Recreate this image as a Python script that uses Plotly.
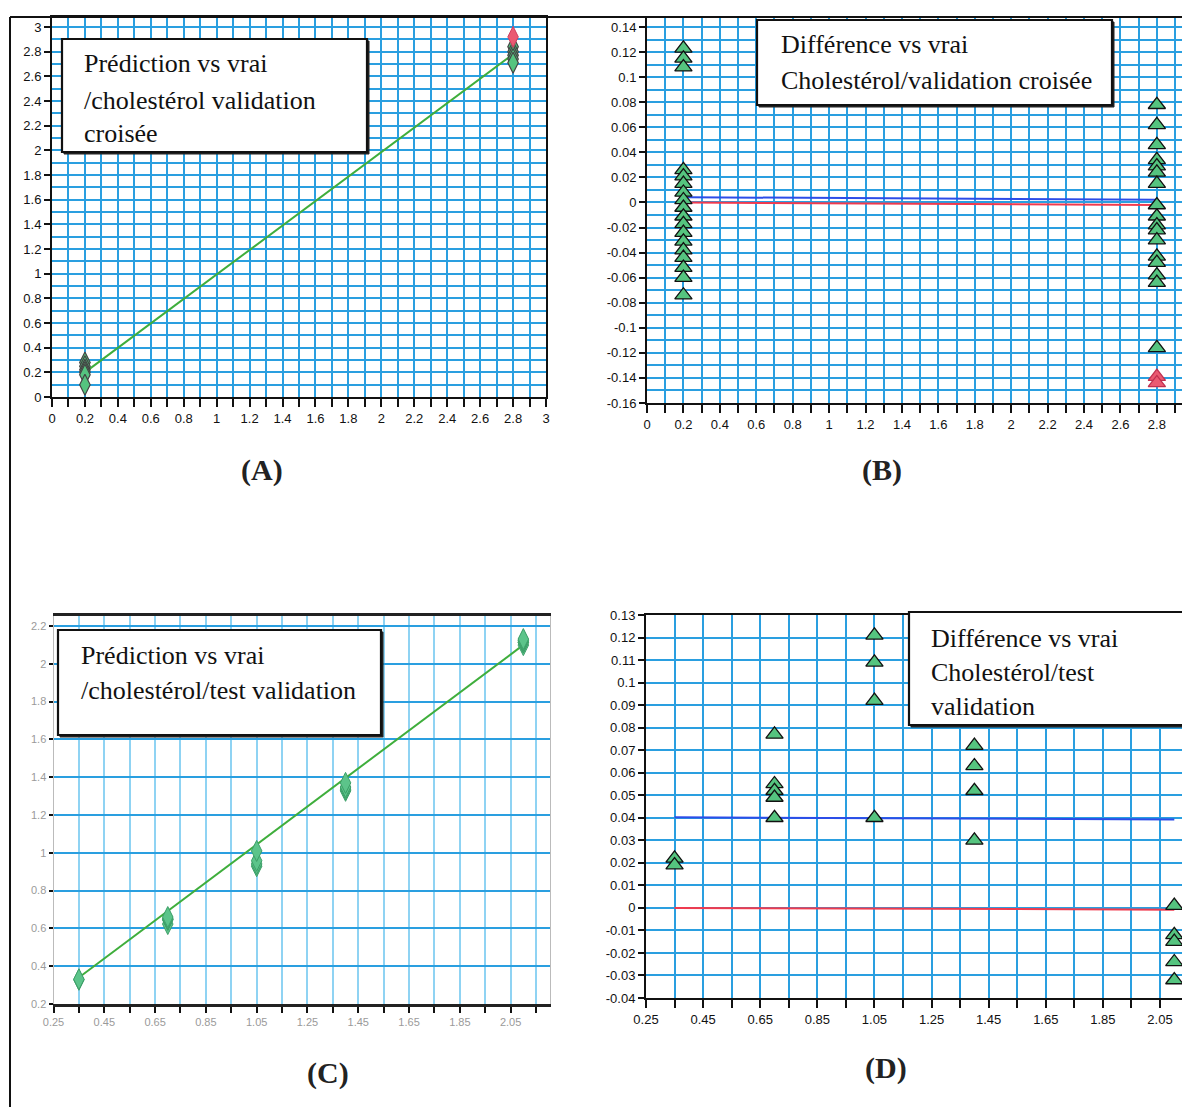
import plotly.graph_objects as go

# the page body adds an 8px margin; the figure is sized to fill the rest of the window
OFF = 8
W, H = 1190 - OFF, 1107 - OFF

# ---------------- data ----------------
# Panel A : prediction vs true (cross validation)
a_low_x = [0.2, 0.2, 0.2, 0.2, 0.2, 0.2]
a_low_y = [0.28, 0.25, 0.22, 0.20, 0.18, 0.10]
a_high_x = [2.8, 2.8, 2.8, 2.8, 2.8]
a_high_y = [2.84, 2.80, 2.77, 2.74, 2.71]
a_red_x = [2.8]
a_red_y = [2.92]
a_fit_x = [0.22, 2.79]
a_fit_y = [0.22, 2.77]

# Panel B : difference vs true (cross validation)
b_low_x = [0.2] * 18
b_low_y = [0.123, 0.115, 0.108, 0.026, 0.021, 0.015, 0.008, 0.002, -0.004,
           -0.011, -0.017, -0.024, -0.031, -0.038, -0.044, -0.052, -0.060, -0.074]
b_high_x = [2.8] * 17
b_high_y = [0.078, 0.062, 0.046, 0.034, 0.029, 0.024, 0.015, -0.002, -0.011,
            -0.018, -0.022, -0.030, -0.043, -0.048, -0.058, -0.064, -0.116]
b_red_x = [2.8, 2.8]
b_red_y = [-0.139, -0.144]
b_blue_x = [0.22, 2.8]
b_blue_y = [0.0042, 0.0022]
b_zero_x = [0.22, 2.8]
b_zero_y = [0.0, -0.0020]

# Panel C : prediction vs true (test validation)
c_x = [0.35, 0.35, 0.7, 0.7, 0.7, 0.7, 0.7, 1.05, 1.05, 1.05, 1.05,
       1.4, 1.4, 1.4, 1.4, 2.1, 2.1, 2.1, 2.1, 2.1]
c_y = [0.328, 0.331, 0.623, 0.645, 0.648, 0.651, 0.660, 0.929, 0.941, 0.958, 1.010,
       1.328, 1.337, 1.348, 1.370, 2.099, 2.113, 2.115, 2.124, 2.131]
c_fit_x = [0.35, 2.1]
c_fit_y = [0.34, 2.10]

# Panel D : difference vs true (test validation)
d_x = [0.35, 0.35, 0.7, 0.7, 0.7, 0.7, 0.7, 1.05, 1.05, 1.05, 1.05,
       1.4, 1.4, 1.4, 1.4, 2.1, 2.1, 2.1, 2.1, 2.1]
d_y = [0.022, 0.019, 0.077, 0.055, 0.052, 0.049, 0.040, 0.121, 0.109, 0.092, 0.040,
       0.072, 0.063, 0.052, 0.030, 0.001, -0.012, -0.015, -0.024, -0.032]
d_blue_x = [0.35, 2.1]
d_blue_y = [0.0402, 0.0392]
d_zero_x = [0.35, 2.1]
d_zero_y = [0.0, -0.0008]

# tick labels
a_ticks = [round(0.2 * i, 1) for i in range(16)]
a_ticktext = ["0", "0.2", "0.4", "0.6", "0.8", "1", "1.2", "1.4", "1.6", "1.8",
              "2", "2.2", "2.4", "2.6", "2.8", "3"]
b_xticks = a_ticks[:15]
b_xticktext = a_ticktext[:15]
b_yticks = [0.14, 0.12, 0.1, 0.08, 0.06, 0.04, 0.02, 0, -0.02, -0.04, -0.06,
            -0.08, -0.1, -0.12, -0.14, -0.16]
b_yticktext = ["0.14", "0.12", "0.1", "0.08", "0.06", "0.04", "0.02", "0", "-0.02",
               "-0.04", "-0.06", "-0.08", "-0.1", "-0.12", "-0.14", "-0.16"]
c_xticks = [0.25, 0.45, 0.65, 0.85, 1.05, 1.25, 1.45, 1.65, 1.85, 2.05]
c_xticktext = ["0.25", "0.45", "0.65", "0.85", "1.05", "1.25", "1.45", "1.65", "1.85", "2.05"]
c_yticks = [0.2, 0.4, 0.6, 0.8, 1.0, 1.2, 1.4, 1.6, 1.8, 2.0, 2.2]
c_yticktext = ["0.2", "0.4", "0.6", "0.8", "1", "1.2", "1.4", "1.6", "1.8", "2", "2.2"]
d_yticks = [0.13, 0.12, 0.11, 0.1, 0.09, 0.08, 0.07, 0.06, 0.05, 0.04, 0.03, 0.02,
            0.01, 0, -0.01, -0.02, -0.03, -0.04]
d_yticktext = ["0.13", "0.12", "0.11", "0.1", "0.09", "0.08", "0.07", "0.06", "0.05",
               "0.04", "0.03", "0.02", "0.01", "0", "-0.01", "-0.02", "-0.03", "-0.04"]

# ---------------- style ----------------
GRID = "#2a9fe0"
GRID_LIGHT = "#8fd3f3"
GREEN = "#55c47f"
RED = "#ea5a72"
FIT = "#3fae3c"
TICKFONT = dict(family="Liberation Sans Narrow, Arial Narrow, sans-serif", size=13, color="#111")
SERIF = "Liberation Serif, Times New Roman, serif"


def px(x):
    return (x - OFF) / W


def py(y):
    return 1 - (y - OFF) / H


fig = go.Figure()

# Panel A
fig.add_trace(go.Scatter(x=a_fit_x, y=a_fit_y, mode="lines", line=dict(color=FIT, width=2),
                         xaxis="x", yaxis="y"))
fig.add_trace(go.Scatter(x=a_low_x, y=a_low_y, mode="markers",
                         marker=dict(symbol="diamond-tall", size=15, color=GREEN,
                                     line=dict(color="#444", width=1.2)), xaxis="x", yaxis="y"))
fig.add_trace(go.Scatter(x=a_high_x, y=a_high_y, mode="markers",
                         marker=dict(symbol="diamond-tall", size=15, color=GREEN,
                                     line=dict(color="#444", width=1.2)), xaxis="x", yaxis="y"))
fig.add_trace(go.Scatter(x=a_red_x, y=a_red_y, mode="markers",
                         marker=dict(symbol="diamond-tall", size=15, color=RED,
                                     line=dict(color="#d04060", width=1)), xaxis="x", yaxis="y"))

# Panel B
tri = dict(symbol="triangle-up", size=15, color=GREEN, line=dict(color="#111", width=1.3))
fig.add_trace(go.Scatter(x=b_blue_x, y=b_blue_y, mode="lines", line=dict(color="#2c4de8", width=2),
                         xaxis="x2", yaxis="y2"))
fig.add_trace(go.Scatter(x=b_zero_x, y=b_zero_y, mode="lines", line=dict(color="#f03a4e", width=2),
                         xaxis="x2", yaxis="y2"))
fig.add_trace(go.Scatter(x=b_low_x, y=b_low_y, mode="markers", marker=tri, xaxis="x2", yaxis="y2"))
fig.add_trace(go.Scatter(x=b_high_x, y=b_high_y, mode="markers", marker=tri, xaxis="x2", yaxis="y2"))
fig.add_trace(go.Scatter(x=b_red_x, y=b_red_y, mode="markers",
                         marker=dict(symbol="triangle-up", size=15, color=RED,
                                     line=dict(color="#c03050", width=1.3)),
                         xaxis="x2", yaxis="y2"))

# Panel C
fig.add_trace(go.Scatter(x=c_fit_x, y=c_fit_y, mode="lines", line=dict(color=FIT, width=2),
                         xaxis="x3", yaxis="y3"))
fig.add_trace(go.Scatter(x=c_x, y=c_y, mode="markers",
                         marker=dict(symbol="diamond-tall", size=15, color="#5cc48a",
                                     line=dict(color="#3d9f68", width=1)),
                         xaxis="x3", yaxis="y3"))

# Panel D
fig.add_trace(go.Scatter(x=d_blue_x, y=d_blue_y, mode="lines", line=dict(color="#2c4de8", width=2),
                         xaxis="x4", yaxis="y4"))
fig.add_trace(go.Scatter(x=d_zero_x, y=d_zero_y, mode="lines", line=dict(color="#f03a4e", width=2),
                         xaxis="x4", yaxis="y4"))
fig.add_trace(go.Scatter(x=d_x, y=d_y, mode="markers", marker=tri, xaxis="x4", yaxis="y4"))


def axis(domain, rng, tickvals, ticktext, minor_dtick, minor_tick0, anchor,
         minor_ticks="", linecolor="#111", linewidth=2, mirror=False, font=TICKFONT,
         gridcolor=GRID, minor_grid=True, minor_gridcolor=GRID, ticklen=6, minor_ticklen=8,
         ticks="outside"):
    return dict(domain=domain, range=rng, tickmode="array", tickvals=tickvals, ticktext=ticktext,
                showgrid=True, gridcolor=gridcolor, gridwidth=1.6, zeroline=False,
                showline=True, linecolor=linecolor, linewidth=linewidth, mirror=mirror,
                ticks=ticks, ticklen=ticklen, tickwidth=1.5, tickcolor="#111",
                tickfont=font, anchor=anchor, automargin=False,
                minor=dict(dtick=minor_dtick, tick0=minor_tick0, showgrid=minor_grid,
                           gridcolor=minor_gridcolor, gridwidth=1.6, ticks=minor_ticks,
                           ticklen=minor_ticklen, tickwidth=1.5, tickcolor="#111"))


layout = dict(width=W, height=H, margin=dict(l=0, r=0, t=0, b=0, autoexpand=False),
              paper_bgcolor="white", plot_bgcolor="white", showlegend=False)

# A
layout["xaxis"] = axis([px(52), px(546)], [0, 3], a_ticks, a_ticktext, 0.1, 0, "y",
                       minor_ticks="outside", ticklen=8, mirror=True)
layout["yaxis"] = axis([py(397), py(17)], [0, 3.081], a_ticks, a_ticktext, 0.1, 0, "x",
                       mirror=True)
# B
layout["xaxis2"] = axis([px(647), px(1190)], [0, 2.982], b_xticks, b_xticktext, 0.1, 0, "y2",
                        minor_ticks="outside", ticklen=8, mirror=True)
layout["yaxis2"] = axis([py(403), py(18)], [-0.16, 0.1472], b_yticks, b_yticktext, 0.01, 0, "x2")
# C
cfont = dict(family="Liberation Sans Narrow, Arial Narrow, sans-serif", size=11, color="#9a9a9a")
layout["xaxis3"] = axis([px(53.5), px(550)], [0.25, 2.205], c_xticks, c_xticktext, 0.1, 0.25, "y3",
                        minor_ticks="outside", linecolor="#222", linewidth=2.5, mirror=True,
                        font=cfont, gridcolor=GRID_LIGHT, minor_gridcolor=GRID_LIGHT,
                        ticklen=6, minor_ticklen=6)
layout["yaxis3"] = axis([py(1004), py(616)], [0.2, 2.253], c_yticks, c_yticktext, 0.2, 0.2, "x3",
                        linecolor="#bbbbbb", linewidth=1, mirror=True, font=cfont,
                        minor_grid=False, ticklen=4)
# D
layout["xaxis4"] = axis([px(646), px(1190)], [0.25, 2.155], c_xticks, c_xticktext, 0.1, 0.25, "y4",
                        minor_ticks="outside", ticklen=8)
layout["yaxis4"] = axis([py(998), py(615)], [-0.04, 0.13], d_yticks, d_yticktext, 0.01, 0, "x4")
layout["xaxis4"]["mirror"] = True

fig.update_layout(**layout)

shapes = []
# page frame lines
shapes.append(dict(type="line", xref="paper", yref="paper", x0=px(10), x1=px(1190),
                   y0=py(17), y1=py(17), line=dict(color="#111", width=2)))
shapes.append(dict(type="line", xref="paper", yref="paper", x0=px(10), x1=px(10),
                   y0=py(17), y1=py(1107), line=dict(color="#111", width=2)))
shapes.append(dict(type="line", xref="paper", yref="paper", x0=px(1188), x1=px(1188),
                   y0=py(470), y1=py(612), line=dict(color="#111", width=2)))
shapes.append(dict(type="line", xref="paper", yref="paper", x0=px(1188), x1=px(1188),
                   y0=py(1040), y1=py(1100), line=dict(color="#111", width=2)))

# text boxes (x0, y0, x1, y1 in pixels) with a slight shadow on the bottom/right edge
boxes = [(62, 39, 367, 152), (757, 20, 1112, 105), (58, 630, 381, 735), (909, 612, 1185, 725)]
for (x0, y0, x1, y1) in boxes:
    shapes.append(dict(type="rect", xref="paper", yref="paper", x0=px(x0 + 2), x1=px(x1 + 2),
                       y0=py(y1 + 2), y1=py(y0 + 2), fillcolor="#222",
                       line=dict(color="#222", width=1), layer="above"))
    shapes.append(dict(type="rect", xref="paper", yref="paper", x0=px(x0), x1=px(x1),
                       y0=py(y1), y1=py(y0), fillcolor="white",
                       line=dict(color="#111", width=2.2), layer="above"))
fig.update_layout(shapes=shapes)

box_texts = [
    (82, [(64, "Prédiction vs vrai"), (100, "/cholestérol validation"), (133, "croisée")]),
    (779, [(44, "Différence vs vrai"), (80, "Cholestérol/validation croisée")]),
    (79, [(655, "Prédiction vs vrai"), (690, "/cholestérol/test validation")]),
    (929, [(638, "Différence vs vrai"), (672, "Cholestérol/test"), (706, "validation")]),
]
annotations = []
for x0, lines in box_texts:
    for y, t in lines:
        annotations.append(dict(text=t, xref="paper", yref="paper", x=px(x0), y=py(y),
                                xanchor="left", yanchor="middle", showarrow=False,
                                font=dict(family=SERIF, size=26, color="#111")))

panel_labels = [("(A)", 262, 470), ("(B)", 882, 470), ("(C)", 328, 1073), ("(D)", 886, 1068)]
for t, x, y in panel_labels:
    annotations.append(dict(text="<b>" + t + "</b>", xref="paper", yref="paper", x=px(x), y=py(y),
                            xanchor="center", yanchor="middle", showarrow=False,
                            font=dict(family=SERIF, size=30, color="#222")))
fig.update_layout(annotations=annotations)

fig.write_html("out.html")
